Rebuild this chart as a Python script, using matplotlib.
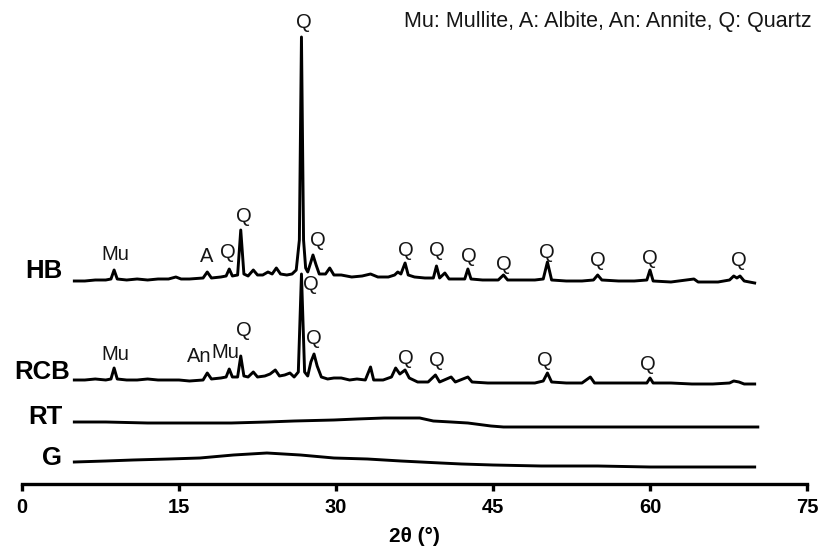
import numpy as np
import matplotlib
matplotlib.use("Agg")
import matplotlib.pyplot as plt

# XRD patterns: 2theta (deg) and relative intensity (a.u.)
hb_2t = [5.0, 6.0, 7.0, 8.0, 8.5, 8.8, 9.1, 10.0, 11.0, 12.0, 13.0, 14.0, 14.7, 15.2, 16.0,
         17.3, 17.7, 18.1, 19.0, 19.5, 19.8, 20.1, 20.6, 20.9, 21.2, 21.6, 22.1, 22.5, 23.0,
         23.5, 23.9, 24.3, 24.7, 25.3, 25.8, 26.2, 26.5, 26.7, 26.9, 27.1, 27.3, 27.6, 27.8,
         28.1, 28.4, 29.0, 29.4, 29.8, 30.5, 31.5, 32.5, 33.3, 34.0, 35.0, 35.6, 35.9, 36.2,
         36.6, 36.9, 37.5, 38.5, 39.3, 39.6, 39.9, 40.4, 40.8, 41.5, 42.3, 42.6, 42.9, 44.0,
         45.5, 46.0, 46.4, 47.5, 49.0, 49.8, 50.2, 50.6, 52.0, 53.5, 54.6, 55.0, 55.4, 57.0,
         58.5, 59.7, 60.0, 60.3, 62.0, 64.2, 64.6, 66.5, 67.6, 68.0, 68.3, 68.6, 69.0, 70.0]
hb_int = [3, 3, 4, 4, 5, 14, 5, 4, 5, 4, 5, 5, 7, 5, 5,
          6, 12, 6, 7, 8, 15, 8, 9, 54, 10, 8, 14, 9, 9,
          12, 10, 16, 10, 9, 10, 14, 44, 247, 44, 16, 12, 22, 29,
          19, 10, 10, 16, 9, 9, 7, 8, 10, 7, 7, 9, 12, 10,
          21, 9, 7, 6, 6, 18, 6, 11, 5, 5, 5, 15, 5, 4,
          4, 9, 4, 4, 4, 5, 22, 4, 3, 3, 4, 9, 4, 3,
          3, 4, 14, 3, 2, 5, 2, 2, 4, 8, 6, 8, 3, 1]

rcb_2t = [5.0, 6.0, 7.0, 8.0, 8.5, 8.8, 9.1, 10.0, 11.0, 12.0, 13.0, 14.0, 15.0, 16.0,
          17.3, 17.7, 18.1, 19.0, 19.5, 19.8, 20.1, 20.6, 20.9, 21.2, 21.6, 22.1, 22.5, 23.2,
          23.7, 24.2, 24.6, 25.1, 25.6, 26.0, 26.4, 26.7, 27.0, 27.3, 27.6, 27.9, 28.2, 28.6,
          29.2, 29.8, 30.5, 31.3, 32.0, 32.8, 33.3, 33.6, 34.5, 35.3, 35.7, 36.1, 36.6, 37.0,
          37.8, 38.8, 39.5, 39.9, 41.0, 41.4, 42.6, 43.0, 44.5, 46.0, 47.5, 49.0, 49.8, 50.2,
          50.6, 52.0, 53.5, 54.3, 54.7, 56.5, 58.5, 59.7, 60.0, 60.3, 62.0, 64.0, 66.0, 67.6,
          68.0, 68.5, 69.0, 70.0]
rcb_int = [5, 5, 6, 5, 6, 17, 6, 5, 5, 6, 5, 5, 5, 4,
           5, 12, 6, 7, 8, 16, 8, 8, 29, 9, 8, 13, 8, 9,
           11, 15, 9, 10, 12, 8, 13, 111, 13, 9, 23, 31, 19, 8,
           6, 7, 7, 5, 6, 5, 18, 5, 5, 8, 17, 11, 15, 7,
           3, 3, 10, 3, 8, 3, 8, 3, 2, 2, 2, 2, 4, 12,
           3, 2, 2, 8, 2, 2, 2, 2, 7, 2, 2, 1, 1, 2,
           4, 3, 1, 1]

rt_2t = [5.0, 8.0, 12.0, 17.0, 20.0, 23.4, 26.0, 29.8, 32.0, 34.6, 36.2, 38.0, 39.3, 41.0,
         42.6, 44.8, 46.0, 50.0, 55.0, 60.0, 65.0, 70.3]
rt_int = [6, 6, 5, 5, 5, 6, 7, 8, 9, 10, 10, 10, 7, 6,
          5, 2, 1, 1, 1, 1, 1, 1]

g_2t = [5.0, 8.0, 10.6, 14.0, 17.0, 20.2, 23.4, 26.6, 29.8, 33.0, 36.2, 40.0, 42.0, 45.0,
        49.6, 55.0, 60.0, 65.0, 70.0]
g_int = [6, 7, 8, 9, 10, 13, 15, 13, 10, 9, 7, 5, 4, 3,
         2, 2, 1, 1, 1]

names = ["HB", "RCB", "RT", "G"]
offsets = [200, 99, 56, 16]

xticks = [0, 15, 30, 45, 60, 75]
xtick_labels = ["0", "15", "30", "45", "60", "75"]

# peak labels: (text, 2theta, height above the axis)
hb_peaks = [("Mu", 8.9, 230), ("A", 17.6, 228), ("Q", 19.7, 232), ("Q", 21.2, 268),
            ("Q", 26.9, 462), ("Q", 28.3, 243), ("Q", 36.7, 233), ("Q", 39.6, 233),
            ("Q", 42.7, 227), ("Q", 46.0, 219), ("Q", 50.1, 232), ("Q", 55.0, 223),
            ("Q", 60.0, 225), ("Q", 68.5, 223)]
rcb_peaks = [("Q", 27.6, 199), ("Mu", 8.9, 129), ("An", 16.9, 128), ("Mu", 19.4, 131),
             ("Q", 21.2, 153), ("Q", 27.9, 145), ("Q", 36.7, 126), ("Q", 39.6, 123),
             ("Q", 50.0, 123), ("Q", 59.8, 120)]

sans = ["Liberation Sans", "DejaVu Sans"]

fig = plt.figure(figsize=(8.23, 5.54), dpi=100)
ax = fig.add_axes([22/823, 1 - 484/554, 785/823, 484/554])

for xs, ys, off in zip([hb_2t, rcb_2t, rt_2t, g_2t], [hb_int, rcb_int, rt_int, g_int], offsets):
    ax.plot(xs, np.array(ys) + off, color="black", lw=2.1, solid_joinstyle="round")

label_x = [3.85, 4.6, 3.9, 3.85]
label_y = [213, 112, 67, 26]
for name, xl, yl in zip(names, label_x, label_y):
    ax.text(xl, yl, name, ha="right", va="center", fontsize=18.5, fontweight="bold",
            family=sans)

for txt, x, y in hb_peaks + rcb_peaks:
    ax.text(x, y, txt, ha="center", va="center", fontsize=14.5, color="#151515",
            family=sans)

ax.text(1.006, 0.955, "Mu: Mullite, A: Albite, An: Annite, Q: Quartz", transform=ax.transAxes,
        ha="right", va="center", fontsize=15.5, color="#151515", family=sans)

ax.set_xlim(0, 75)
ax.set_ylim(0, 484)
ax.set_xticks(xticks, labels=xtick_labels, fontsize=14.5, fontweight="bold", family=sans)
ax.set_yticks([])
for s in ["left", "right", "top"]:
    ax.spines[s].set_visible(False)
ax.spines["bottom"].set_linewidth(2.4)
ax.tick_params(axis="x", direction="out", length=5, width=2.4, pad=5)
ax.set_xlabel("2θ (°)", fontsize=15, fontweight="bold", labelpad=7, family=sans)
ax.patch.set_alpha(0)

fig.savefig("out.png", dpi=100)
